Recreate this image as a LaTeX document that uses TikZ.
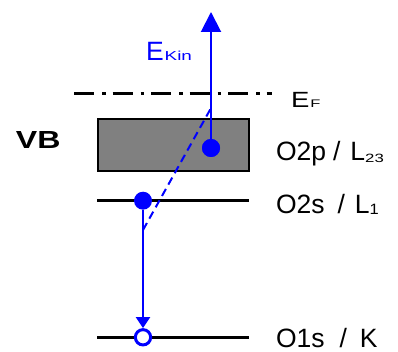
\documentclass[tikz,border=0pt]{standalone}
\usepackage{fontspec}
\usepackage{graphicx}
\setmainfont{Liberation Sans}
\usetikzlibrary{arrows.meta}
\newcommand\hs[2]{\scalebox{#1}[1]{#2}}
\newcommand\fs[1]{\fontsize{#1}{#1}\selectfont}
\begin{document}
\begin{tikzpicture}[x=1pt,y=-1pt,
  lvl/.style={line width=3.3pt},
  lab/.style={anchor=base west, inner sep=0pt, outer sep=0pt, font=\fs{26.5}},
  eb/.style={circle, fill=blue, minimum size=18pt, inner sep=0pt},
  bl/.style={draw=blue, line width=2pt}]
\useasboundingbox (0,0) rectangle (398,352);
% Fermi level
\coordinate (fL) at (74,94); \coordinate (fR) at (272,94);
\draw[line width=3pt, dash pattern=on 20pt off 8pt on 3.5pt off 7pt] (fL) -- (fR);
% valence band box
\draw[line width=2.4pt, fill=black!50] (98.2,119.2) rectangle (248.8,170.8);
% levels
\coordinate (s2L) at (97,200.7); \coordinate (s2R) at (249,200.7);
\draw[lvl] (s2L) -- (s2R);
\coordinate (s1L) at (97,337.3); \coordinate (s1R) at (249,337.3);
\draw[lvl] (s1L) -- (s1R);
% electrons
\node[eb] (p1) at (211,148) {};
\node[eb] (p2) at (143,200.7) {};
\node[circle, draw=blue, line width=3pt, fill=white, minimum size=15.3pt, inner sep=0pt] (k) at (143,337.3) {};
\coordinate (top) at (211,12);
\draw[bl, -{Triangle[width=20pt,length=20pt]}] (p1.center) -- (top);
\node[eb] at (p1) {};
\coordinate (j) at (143,230); \coordinate (d) at (210.5,109);
\draw[bl, dash pattern=on 8pt off 5pt] (j) -- (d);
\draw[bl, -{Triangle[width=14pt,length=11pt]}] (p2) -- (k.north);
% labels
\node[lab, text=blue] (ekin) at (146,61) {E\kern1pt\hs{1.45}{\fs{13}Kin}};
\node[lab] (ef) at (291,107.5) {\hs{1.25}{\fs{22}E}\kern1pt\hs{1.5}{\fs{11}F}};
\node[lab, font=\bfseries\fs{24.7}] (vb) at (16,149) {\hs{1.3}{VB}};
\node[lab] (o2p) at (276,161) {O2p\kern7pt/\kern10pt L\raisebox{-2pt}{\hs{1.4}{\fs{12}23}}};
\node[lab] (o2s) at (276,214) {O2s\kern13pt/\kern10pt L\raisebox{-1pt}{\hs{1.1}{\fs{15}1}}};
\node[lab] (o1s) at (276,347.5) {O1s\kern15pt/\kern13pt K};
\end{tikzpicture}
\end{document}
